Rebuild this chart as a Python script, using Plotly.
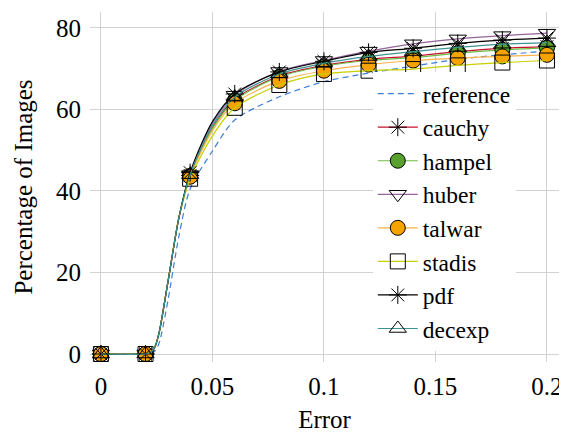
import plotly.graph_objects as go

# ---- data ----
x_marks = [0, 0.02, 0.04, 0.06, 0.08, 0.10, 0.12, 0.14, 0.16, 0.18, 0.20]
# extra curve samples (rise and knee of the curves)
x_rise = [0.022, 0.024, 0.026, 0.03, 0.035]
x_knee = [0.05]

reference = [0, 0, 40.5, 57.4, 63.1, 66.8, 68.9, 70.6, 72.3, 73.4, 74.3]
cauchy    = [0, 0, 43.8, 62.5, 68.2, 70.8, 72.3, 73.1, 74.2, 75.0, 75.4]
hampel    = [0, 0, 43.7, 62.2, 68.0, 70.6, 72.0, 72.7, 73.8, 74.6, 75.1]
huber     = [0, 0, 44.0, 63.5, 69.3, 72.0, 74.3, 76.1, 77.3, 78.1, 78.7]
talwar    = [0, 0, 43.5, 61.5, 67.0, 69.5, 71.0, 72.0, 72.6, 73.0, 73.4]
stadis    = [0, 0, 43.0, 60.4, 66.0, 68.7, 69.5, 69.9, 70.8, 71.5, 72.0]
pdf       = [0, 0, 44.5, 63.8, 69.2, 71.8, 74.0, 75.0, 76.2, 77.0, 77.5]
decexp    = [0, 0, 44.0, 63.0, 68.7, 71.3, 73.0, 74.2, 75.2, 76.0, 76.4]

rise_main = [0.3, 1.5, 5.0, 17.5, 33.5]
rise_ref  = [0.1, 0.6, 2.5, 13.0, 29.0]

knee = {
    "reference": 49.8, "cauchy": 55.5, "hampel": 55.3, "huber": 56.5,
    "talwar": 54.8, "stadis": 53.5, "pdf": 57.0, "decexp": 56.0,
}

x_ticks = [0, 0.05, 0.1, 0.15, 0.2]
x_tick_text = ["0", "0.05", "0.1", "0.15", "0.2"]
y_ticks = [0, 20, 40, 60, 80]
y_tick_text = ["0", "20", "40", "60", "80"]

series = [
    # name, values, line color, dash, symbol, marker fill
    ("reference", reference, "#3d7fd6", "6px,4px", None, None),
    ("cauchy", cauchy, "#c8102e", "solid", "asterisk-open", None),
    ("hampel", hampel, "#6cbd45", "solid", "circle", "#58a12e"),
    ("huber", huber, "#94649a", "solid", "triangle-down-open", None),
    ("talwar", talwar, "#f7b34a", "solid", "circle", "#f5a300"),
    ("stadis", stadis, "#c6d000", "solid", "square-open", None),
    ("pdf", pdf, "#000000", "solid", "asterisk-open", None),
    ("decexp", decexp, "#3f9393", "solid", "triangle-up-open", None),
]

FONT = "Liberation Serif, Times New Roman, serif"

fig = go.Figure()


def curve(name, vals):
    rise = rise_ref if name == "reference" else rise_main
    pts = list(zip(x_marks, vals)) + list(zip(x_rise, rise)) + [(x_knee[0], knee[name])]
    pts.sort()
    return [p[0] for p in pts], [p[1] for p in pts]


def marker_style(sym, fill):
    if fill is not None:
        return dict(symbol=sym, size=15, color=fill, line=dict(color="black", width=1))
    return dict(symbol=sym, size=15, color="black", line=dict(color="black", width=1))


for name, vals, col, dash, sym, fill in series:
    cx, cy = curve(name, vals)
    fig.add_trace(go.Scatter(
        x=cx, y=cy, mode="lines", showlegend=False, hoverinfo="skip",
        line=dict(color=col, width=1.2, dash=dash, shape="spline", smoothing=0.8),
    ))
    if sym is not None:
        fig.add_trace(go.Scatter(
            x=x_marks, y=vals, mode="markers", showlegend=False,
            marker=marker_style(sym, fill),
        ))

# legend entries
for name, vals, col, dash, sym, fill in series:
    if sym is None:
        fig.add_trace(go.Scatter(
            x=[None], y=[None], mode="lines", name=name,
            line=dict(color=col, width=1.2, dash=dash),
        ))
    else:
        fig.add_trace(go.Scatter(
            x=[None], y=[None], mode="lines+markers", name=name,
            line=dict(color=col, width=1.2, dash=dash), marker=marker_style(sym, fill),
        ))

fig.update_layout(
    width=559, height=426,
    margin=dict(l=82, r=6, t=4, b=72),
    paper_bgcolor="white", plot_bgcolor="white",
    font=dict(family=FONT, size=25, color="black"),
    showlegend=True,
    legend=dict(
        x=0.603, y=0.829, xanchor="left", yanchor="top",
        bgcolor="white", borderwidth=0,
        font=dict(family=FONT, size=23.5, color="black"),
        tracegroupgap=0, itemwidth=40,
    ),
    xaxis=dict(
        range=[-0.0049, 0.2054], tickvals=x_ticks, ticktext=x_tick_text,
        showgrid=True, gridcolor="#d2d2d2", gridwidth=1.3,
        zeroline=False, showline=False,
        ticks="outside", ticklen=2, tickcolor="rgba(0,0,0,0)",
        title=dict(text="Error", font=dict(family=FONT, size=25), standoff=11),
        tickfont=dict(family=FONT, size=25),
    ),
    yaxis=dict(
        range=[-1.96, 83.9], tickvals=y_ticks, ticktext=y_tick_text,
        showgrid=True, gridcolor="#d2d2d2", gridwidth=1.3,
        zeroline=False, showline=False,
        ticks="outside", ticklen=3, tickcolor="rgba(0,0,0,0)",
        title=dict(text="Percentage of Images", font=dict(family=FONT, size=25), standoff=16),
        tickfont=dict(family=FONT, size=25),
    ),
)

fig.write_html("out.html")
